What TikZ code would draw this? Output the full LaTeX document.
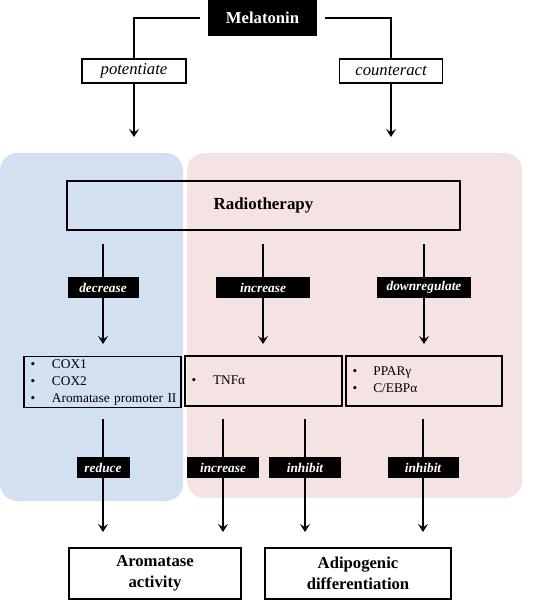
\documentclass[tikz,border=0pt]{standalone}
\usepackage{fontspec}
\setmainfont{Liberation Serif}
\newfontfamily\tnr{Liberation Serif}
\usetikzlibrary{arrows.meta}
\definecolor{panelblue}{HTML}{D2E0F2}
\definecolor{panelpink}{HTML}{F5E2E2}
\begin{document}
\begin{tikzpicture}[x=0.75pt,y=-0.75pt,
  conn/.style={line width=1.5pt},
  arr/.style={line width=1.5pt,-{Stealth[length=6pt,width=7.5pt,inset=2.5pt]}},
  panel/.style={rounded corners=13pt},
  whitebox/.style={draw,line width=1.2pt,fill=white,inner sep=0pt,font=\tnr\fontsize{12.5}{15}\selectfont\itshape},
  blackbox/.style={fill=black,text=white,inner sep=0pt,minimum height=15.75pt,font=\tnr\fontsize{10}{12}\selectfont\bfseries\itshape},
  itembox/.style={draw,line width=1.2pt,inner ysep=0pt,inner xsep=5pt,minimum height=37.5pt,font=\tnr\fontsize{10}{12.75}\selectfont},
  outbox/.style={draw,line width=1.5pt,fill=white,inner sep=0pt,minimum height=38.25pt,align=center,font=\tnr\fontsize{12.5}{15.75}\selectfont\bfseries}
]
\useasboundingbox (0,0) rectangle (544,603);
% panels
\fill[panelblue,panel] (0,153) rectangle (183,501);
\fill[panelpink,panel] (187,153) rectangle (522,498);
% Melatonin
\node[fill=black,text=white,inner sep=0pt,minimum width=81.75pt,minimum height=27pt,font=\tnr\fontsize{12.5}{15}\selectfont\bfseries] (mel) at (262.5,18) {Melatonin};
\node[whitebox,minimum width=78pt,minimum height=18pt] (pot) at (134,71) {potentiate};
\node[whitebox,minimum width=77.25pt,minimum height=18pt] (cnt) at (391,71) {counteract};
\coordinate (pe) at (134,137);
\coordinate (ce) at (391,137);
\draw[conn] ([xshift=-6pt]mel.west) -| (pot.north);
\draw[conn] ([xshift=6pt]mel.east) -| (cnt.north);
\draw[arr] (pot.south) -- (pe);
\draw[arr] (cnt.south) -- (ce);
% Radiotherapy
\node[draw,line width=1.8pt,inner sep=0pt,minimum width=294.75pt,minimum height=36.75pt,font=\tnr\fontsize{12.7}{15}\selectfont\bfseries] (rad) at (263.5,205.5) {Radiotherapy};
% first row
\coordinate (s1) at (103,244);
\coordinate (s2) at (263,244);
\coordinate (s3) at (424,244);
\coordinate (t1) at (103,344);
\coordinate (t2) at (263,344);
\coordinate (t3) at (424,344);
\node[blackbox,minimum width=53.25pt] (dec) at (103,287.5) {decrease};
\node[blackbox,minimum width=70.5pt] (inc) at (263,287.5) {increase};
\node[blackbox,minimum width=70.5pt] (down) at (424,287.5) {downregulate};
\draw[conn] (s1) -- (dec.north);
\draw[conn] (s2) -- (inc.north);
\draw[conn] (s3) -- (down.north);
\draw[arr] (dec.south) -- (t1);
\draw[arr] (inc.south) -- (t2);
\draw[arr] (down.south) -- (t3);
% item boxes
\node[itembox,text width=107.75pt,minimum width=117.75pt] (box1) at (102.5,382)
  {\begin{tabular}{@{}l@{\hspace{12.5pt}}l@{}}\textbullet & COX1\\ \textbullet & COX2\\ \textbullet & Aromatase promoter II\end{tabular}};
\node[itembox,text width=107.75pt,minimum width=117.75pt] (box2) at (263.5,381)
  {\begin{tabular}{@{}l@{\hspace{12.5pt}}l@{}}\textbullet & TNFα\end{tabular}};
\node[itembox,text width=107pt,minimum width=117pt] (box3) at (424,381)
  {\begin{tabular}{@{}l@{\hspace{12pt}}l@{}}\textbullet & PPARγ\\ \textbullet & C/EBPα\end{tabular}};
% second row
\coordinate (u1) at (103,419);
\coordinate (u2) at (223,419);
\coordinate (u3) at (305,419);
\coordinate (u4) at (423,419);
\coordinate (v1) at (103,532);
\coordinate (v2) at (223,532);
\coordinate (v3) at (305,532);
\coordinate (v4) at (423,532);
\node[blackbox,minimum width=39.75pt] (red) at (103,467.5) {reduce};
\node[blackbox,minimum width=54pt] (inc2) at (223,467.5) {increase};
\node[blackbox,minimum width=54pt] (inh1) at (305,467.5) {inhibit};
\node[blackbox,minimum width=53.25pt] (inh2) at (423,467.5) {inhibit};
\draw[conn] (u1) -- (red.north);
\draw[conn] (u2) -- (inc2.north);
\draw[conn] (u3) -- (inh1.north);
\draw[conn] (u4) -- (inh2.north);
\draw[arr] (red.south) -- (v1);
\draw[arr] (inc2.south) -- (v2);
\draw[arr] (inh1.south) -- (v3);
\draw[arr] (inh2.south) -- (v4);
% outputs
\node[outbox,minimum width=129pt] (aro) at (155,573) {Aromatase\\activity};
\node[outbox,minimum width=139.5pt] (adi) at (358,573) {Adipogenic\\differentiation};
\end{tikzpicture}
\end{document}
